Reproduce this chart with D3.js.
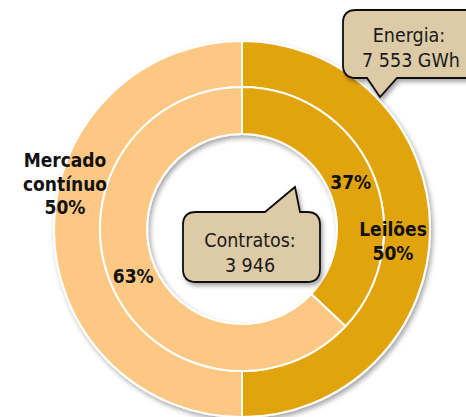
<html>
<head>
<meta charset="utf-8">
<script src="https://d3js.org/d3.v7.min.js"></script>
<style>
  body { margin: 0; background: #fff; }
  .lbl { font: bold 19px "DejaVu Sans Condensed", "DejaVu Sans", sans-serif; fill: #111; text-anchor: middle; }
  .call { font: 19.5px "DejaVu Sans Condensed", "DejaVu Sans", sans-serif; fill: #1a1a1a; text-anchor: middle; }
</style>
</head>
<body>
<svg id="chart" width="466" height="417"></svg>
<script>
// data
var outerNames = ["Leilões", "Mercado contínuo"];
var outerValues = [50, 50];
var innerNames = ["Leilões", "Mercado contínuo"];
var innerValues = [37, 63];
var energiaText = ["Energia:", "7 553 GWh"];
var contratosText = ["Contratos:", "3 946"];

var colors = ["#E2A40A", "#FDC884"];

var svg = d3.select("#chart");
var cx = 242, cy = 229;
var rHole = 95, rMid = 142, rOut = 188;

var defs = svg.append("defs");
defs.append("filter").attr("id", "ringShadow")
  .attr("x", "-20%").attr("y", "-20%").attr("width", "140%").attr("height", "140%")
  .append("feDropShadow").attr("dx", 2).attr("dy", 3).attr("stdDeviation", 2.5)
  .attr("flood-color", "#000").attr("flood-opacity", 0.35);
defs.append("filter").attr("id", "boxShadow")
  .attr("x", "-20%").attr("y", "-20%").attr("width", "140%").attr("height", "140%")
  .append("feDropShadow").attr("dx", 2).attr("dy", 3).attr("stdDeviation", 2)
  .attr("flood-color", "#000").attr("flood-opacity", 0.35);

var pie = d3.pie().sort(null).value(function(d) { return d; });
var outerArc = d3.arc().innerRadius(rMid).outerRadius(rOut);
var innerArc = d3.arc().innerRadius(rHole).outerRadius(rMid);

var g = svg.append("g").attr("transform", "translate(" + cx + "," + cy + ")");
var rings = g.append("g").attr("filter", "url(#ringShadow)");

rings.selectAll("path.outer")
  .data(pie(outerValues))
  .enter().append("path")
  .attr("class", "outer")
  .attr("d", outerArc)
  .attr("fill", function(d, i) { return colors[i]; })
  .attr("stroke", "#fff").attr("stroke-width", 2);

rings.selectAll("path.inner")
  .data(pie(innerValues))
  .enter().append("path")
  .attr("class", "inner")
  .attr("d", innerArc)
  .attr("fill", function(d, i) { return colors[i]; })
  .attr("stroke", "#fff").attr("stroke-width", 2);

// labels
var innerPie = pie(innerValues);
innerPie.forEach(function(d, i) {
  var c = innerArc.centroid(d);
  g.append("text").attr("class", "lbl")
    .attr("x", c[0]).attr("y", c[1] + 7)
    .text(innerValues[i] + "%");
});

var outerPie = pie(outerValues);
var outerOffsets = [[-14, 7], [-12, -62]];
var outerLines = [["Leilões"], ["Mercado", "contínuo"]];
outerPie.forEach(function(d, i) {
  var c = outerArc.centroid(d);
  var t = g.append("text").attr("class", "lbl")
    .attr("x", c[0] + outerOffsets[i][0]).attr("y", c[1] + outerOffsets[i][1]);
  var lines = outerLines[i].concat([outerValues[i] + "%"]);
  lines.forEach(function(s, j) {
    t.append("tspan").attr("x", c[0] + outerOffsets[i][0])
      .attr("dy", j === 0 ? 0 : 23.5).text(s);
  });
});

// callouts
function callout(x0, y0, x1, y1, r, ptr, side) {
  var p = d3.path();
  p.moveTo(x0 + r, y0);
  if (side === "top") {
    p.lineTo(ptr[0], y0); p.lineTo(ptr[1], ptr[2]); p.lineTo(ptr[3], y0);
  }
  p.lineTo(x1 - r, y0);
  p.quadraticCurveTo(x1, y0, x1, y0 + r);
  p.lineTo(x1, y1 - r);
  p.quadraticCurveTo(x1, y1, x1 - r, y1);
  if (side === "bottom") {
    p.lineTo(ptr[3], y1); p.lineTo(ptr[1], ptr[2]); p.lineTo(ptr[0], y1);
  }
  p.lineTo(x0 + r, y1);
  p.quadraticCurveTo(x0, y1, x0, y1 - r);
  p.lineTo(x0, y0 + r);
  p.quadraticCurveTo(x0, y0, x0 + r, y0);
  p.closePath();
  return p.toString();
}

svg.append("path")
  .attr("d", callout(343, 10, 480, 78, 13, [367, 380, 97, 397], "bottom"))
  .attr("fill", "#DCCBA6").attr("stroke", "#111").attr("stroke-width", 1.8)
  .attr("filter", "url(#boxShadow)");
svg.append("text").attr("class", "call").attr("x", 409).attr("y", 42).text(energiaText[0]);
svg.append("text").attr("class", "call").attr("x", 411).attr("y", 67).text(energiaText[1]);

svg.append("path")
  .attr("d", callout(183, 212, 320, 282, 13, [265, 295, 187, 300], "top"))
  .attr("fill", "#DCCBA6").attr("stroke", "#111").attr("stroke-width", 1.8)
  .attr("filter", "url(#boxShadow)");
svg.append("text").attr("class", "call").attr("x", 250).attr("y", 247).text(contratosText[0]);
svg.append("text").attr("class", "call").attr("x", 250).attr("y", 272).text(contratosText[1]);
</script>
</body>
</html>
